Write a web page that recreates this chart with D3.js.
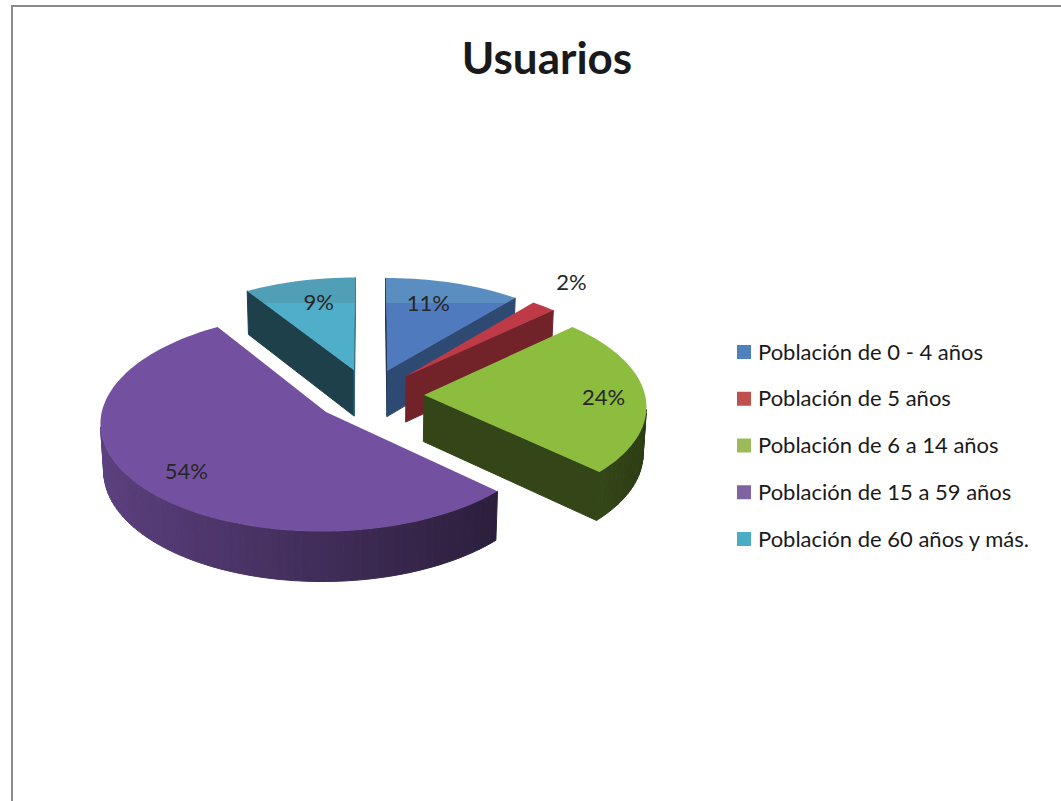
<!DOCTYPE html>
<html lang="es">
<head>
<meta charset="utf-8">
<script src="https://cdn.jsdelivr.net/npm/d3@7"></script>
<style>
  body { margin: 0; background: #fff; }
  svg { display: block; font-family: Lato, "Open Sans", sans-serif; }
</style>
</head>
<body>
<script>
var categories = ["Población de 0 - 4 años", "Población de 5 años", "Población de 6 a 14 años",
                  "Población de 15 a 59 años", "Población de 60 años y más."];
var values = [11, 2, 24, 54, 9];
var pctLabels = ["11%", "2%", "24%", "54%", "9%"];

var legendColors = ["#4F81BD", "#C0504D", "#9BBB59", "#8064A2", "#4BACC6"];
var topColors = ["#4F7BBE", "#BE3A46", "#8CBD3F", "#7451A0", "#4FAECA"];
var bandColors = ["#5A8EC1", "#BE3A46", "#8CBD3F", "#7451A0", "#509FB7"];
// where each label sits: [fraction of the slice angle, fraction of radius]
var labelAt = [[0.41, 0.74], [0.07, 1.31], [0.52, 0.81], [0.49, 0.78], [0.57, 0.74]];

var width = 1061, height = 801;
// 3d view of the pie: centre on screen, pixels per radius, tilt, perspective, explode, thickness
var view = {cx: 369, cy: 395, scale: 221, tilt: 28.5, persp: 0.103, explode: 0.249, depth: 0.242};
var sinA = Math.sin(view.tilt * Math.PI / 180), cosA = Math.cos(view.tilt * Math.PI / 180);

function project(X, Z, Y) {
  var yv = Y * cosA + Z * sinA;
  var dv = Z * cosA - Y * sinA;
  var s = 1 / (1 + view.persp * dv);
  return [view.cx + view.scale * X * s, view.cy - view.scale * yv * s, dv];
}

function area(p) {
  var s = 0;
  for (var i = 0; i < p.length; i++) {
    var a = p[i], b = p[(i + 1) % p.length];
    s += a[0] * b[1] - b[0] * a[1];
  }
  return s / 2;
}

function shade(col, f) {
  var c = d3.rgb(col);
  return d3.rgb(c.r * f, c.g * f, c.b * f).formatHex();
}

var svg = d3.select("body").append("svg")
  .attr("width", width)
  .attr("height", height);

var defs = svg.append("defs");

svg.append("rect")
  .attr("x", 12).attr("y", 6)
  .attr("width", width + 100).attr("height", height + 100)
  .attr("fill", "none")
  .attr("stroke", "#8a8a8a")
  .attr("stroke-width", 2);

svg.append("text")
  .attr("x", 547).attr("y", 74)
  .attr("text-anchor", "middle")
  .attr("font-size", 44)
  .attr("font-weight", "bold")
  .attr("fill", "#1a1a1a")
  .text("Usuarios");

var pie = d3.pie().sort(null).value(function(d) { return d; });
var arcs = pie(values);
var line = d3.line().curve(d3.curveLinearClosed);
var bandY = project(0, 0.95, 0)[1];

var slices = arcs.map(function(a, i) {
  var mid = (a.startAngle + a.endAngle) / 2;
  var ox = view.explode * Math.sin(mid), oz = view.explode * Math.cos(mid);
  function pt(t, r, y) { return project(ox + r * Math.sin(t), oz + r * Math.cos(t), y); }
  var n = Math.max(2, Math.ceil((a.endAngle - a.startAngle) / (Math.PI / 90)));
  var angles = d3.range(n + 1).map(function(k) { return a.startAngle + (a.endAngle - a.startAngle) * k / n; });
  var faces = [];
  var h = -view.depth;

  // cut faces
  var start = [pt(0, 0, 0), pt(a.startAngle, 1, 0), pt(a.startAngle, 1, h), pt(0, 0, h)];
  var end = [pt(a.endAngle, 1, 0), pt(0, 0, 0), pt(0, 0, h), pt(a.endAngle, 1, h)];
  [[start, a.startAngle - Math.PI / 2], [end, a.endAngle + Math.PI / 2]].forEach(function(f) {
    if (area(f[0]) < 0) {
      var fac = Math.sin(f[1]) > 0 ? 0.6 : 0.37;
      faces.push({pts: f[0], fill: shade(topColors[i], fac)});
    }
  });

  // outer wall in strips
  for (var k = 0; k < n; k++) {
    var q = [pt(angles[k], 1, 0), pt(angles[k + 1], 1, 0), pt(angles[k + 1], 1, h), pt(angles[k], 1, h)];
    if (area(q) < 0) {
      var tm = (angles[k] + angles[k + 1]) / 2;
      var fac = 0.8 - 0.49 * (Math.sin(tm) + 1) / 2;
      faces.push({pts: q, fill: shade(topColors[i], fac)});
    }
  }

  var top = [pt(0, 0, 0)].concat(angles.map(function(t) { return pt(t, 1, 0); }));
  var c = pt(mid, 0.5, 0);
  var la = a.startAngle + (a.endAngle - a.startAngle) * labelAt[i][0];
  return {i: i, depth: c[2], faces: faces, top: top, label: pt(la, labelAt[i][1], 0)};
});

slices.forEach(function(s) {
  var g = defs.append("linearGradient")
    .attr("id", "top" + s.i)
    .attr("gradientUnits", "userSpaceOnUse")
    .attr("x1", 0).attr("y1", 0).attr("x2", 0).attr("y2", height);
  var o = bandY / height;
  g.append("stop").attr("offset", 0).attr("stop-color", bandColors[s.i]);
  g.append("stop").attr("offset", o).attr("stop-color", bandColors[s.i]);
  g.append("stop").attr("offset", o).attr("stop-color", topColors[s.i]);
  g.append("stop").attr("offset", 1).attr("stop-color", topColors[s.i]);
});

var pieG = svg.append("g");
slices.slice().sort(function(a, b) { return b.depth - a.depth; }).forEach(function(s) {
  var g = pieG.append("g");
  g.selectAll("path.side").data(s.faces).enter().append("path")
    .attr("class", "side")
    .attr("d", function(f) { return line(f.pts.map(function(p) { return [p[0], p[1]]; })); })
    .attr("fill", function(f) { return f.fill; })
    .attr("stroke", function(f) { return f.fill; })
    .attr("stroke-width", 1);
  g.append("path")
    .attr("d", line(s.top.map(function(p) { return [p[0], p[1]]; })))
    .attr("fill", "url(#top" + s.i + ")");
});

svg.append("g").selectAll("text").data(slices).enter().append("text")
  .attr("x", function(s) { return s.label[0]; })
  .attr("y", function(s) { return s.label[1]; })
  .attr("dy", "0.35em")
  .attr("text-anchor", "middle")
  .attr("font-size", 22)
  .attr("fill", "#262626")
  .text(function(s) { return pctLabels[s.i]; });

var rowY = d3.scalePoint().domain(categories).range([352, 539]);
var legend = svg.append("g").selectAll("g").data(categories).enter().append("g")
  .attr("transform", function(d) { return "translate(737," + rowY(d) + ")"; });
legend.append("rect")
  .attr("x", 0).attr("y", -7)
  .attr("width", 14).attr("height", 14)
  .attr("fill", function(d, i) { return legendColors[i]; });
legend.append("text")
  .attr("x", 21).attr("y", 0)
  .attr("dy", "0.35em")
  .attr("font-size", 22)
  .attr("fill", "#1a1a1a")
  .text(function(d) { return d; });
</script>
</body>
</html>
